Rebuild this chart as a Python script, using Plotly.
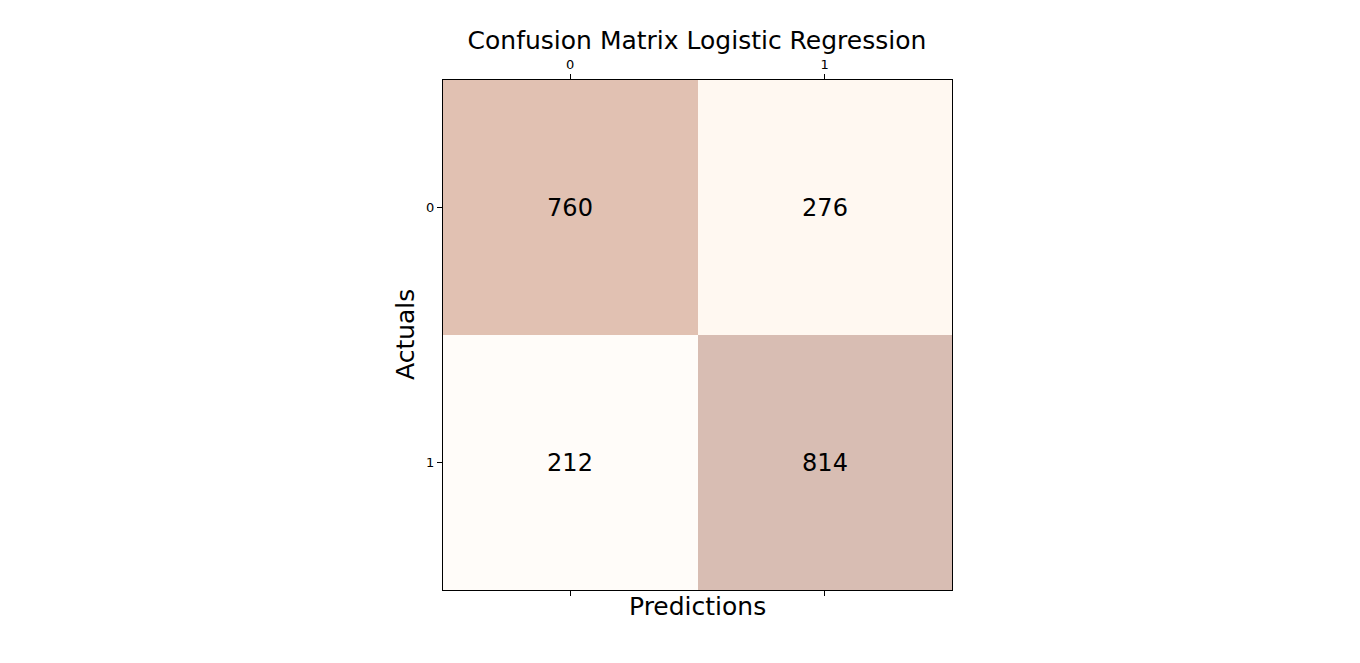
import plotly.graph_objects as go

# confusion matrix values (rows = actuals, columns = predictions)
class_labels = ["0", "1"]
matrix = [
    [760, 276],
    [212, 814],
]

FONT = "DejaVu Sans"


def main():
    fig = go.Figure()

    # matshow-like heatmap, Oranges at alpha 0.3
    fig.add_trace(
        go.Heatmap(
            z=matrix,
            x=[0, 1],
            y=[0, 1],
            colorscale="Oranges",
            opacity=0.3,
            showscale=False,
            texttemplate="%{z}",
            textfont=dict(family=FONT, size=24, color="black"),
            hoverinfo="skip",
        )
    )

    axis_common = dict(
        tickmode="array",
        tickvals=[0, 1],
        ticktext=class_labels,
        range=[-0.5, 1.5],
        showline=True,
        linecolor="black",
        linewidth=1,
        ticks="outside",
        ticklen=5,
        tickcolor="black",
        tickfont=dict(family=FONT, size=13, color="black"),
        showgrid=False,
        zeroline=False,
    )

    # the page body adds an 8px offset, so margins are shifted by that
    fig.update_layout(
        width=1360,
        height=663,
        margin=dict(l=435, r=416, t=72, b=81),
        paper_bgcolor="white",
        plot_bgcolor="white",
        xaxis=dict(axis_common, side="top", mirror="ticks"),
        yaxis=dict(axis_common, range=[1.5, -0.5], mirror=True),
        title=dict(
            text="Confusion Matrix Logistic Regression",
            font=dict(family=FONT, size=25, color="black"),
            x=0.5066,
            xanchor="center",
            yref="container",
            y=1 - 32 / 663,
            yanchor="middle",
        ),
        annotations=[
            dict(
                text="Predictions",
                xref="paper",
                yref="paper",
                x=0.5,
                y=-16 / 510,
                xanchor="center",
                yanchor="middle",
                showarrow=False,
                font=dict(family=FONT, size=25, color="black"),
            ),
            dict(
                text="Actuals",
                xref="paper",
                yref="paper",
                x=-38 / 509,
                y=0.5,
                xanchor="center",
                yanchor="middle",
                textangle=-90,
                showarrow=False,
                font=dict(family=FONT, size=25, color="black"),
            ),
        ],
    )

    fig.write_html("out.html")


if __name__ == "__main__":
    main()
